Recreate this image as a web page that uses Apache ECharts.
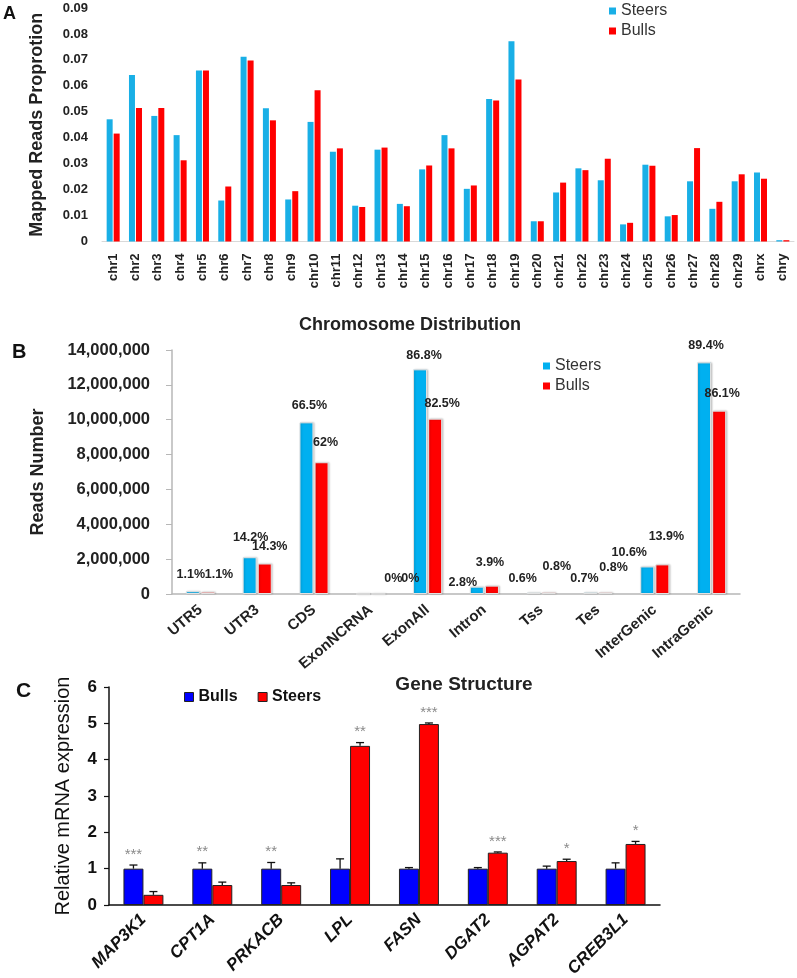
<!DOCTYPE html>
<html>
<head>
<meta charset="utf-8">
<script src="https://cdn.jsdelivr.net/npm/echarts@6/dist/echarts.min.js"></script>
<style>
  html, body { margin: 0; padding: 0; background: #fff; }
  #chart { width: 797px; height: 978px; }
</style>
</head>
<body>
<div id="chart"></div>
<script>
// panel A - mapped reads proportion per chromosome
const chrNames = ['chr1', 'chr2', 'chr3', 'chr4', 'chr5', 'chr6', 'chr7', 'chr8', 'chr9', 'chr10',
  'chr11', 'chr12', 'chr13', 'chr14', 'chr15', 'chr16', 'chr17', 'chr18', 'chr19', 'chr20',
  'chr21', 'chr22', 'chr23', 'chr24', 'chr25', 'chr26', 'chr27', 'chr28', 'chr29', 'chrx', 'chry']
const steersA = [0.0471, 0.0642, 0.0484, 0.0410, 0.0659, 0.0158, 0.0712, 0.0514, 0.0162, 0.0461,
  0.0346, 0.0138, 0.0354, 0.0145, 0.0278, 0.0410, 0.0203, 0.0549, 0.0772, 0.0078,
  0.0189, 0.0282, 0.0236, 0.0066, 0.0296, 0.0097, 0.0232, 0.0126, 0.0232, 0.0266, 0.0005]
const bullsA = [0.0416, 0.0515, 0.0515, 0.0313, 0.0659, 0.0212, 0.0698, 0.0467, 0.0194, 0.0583,
  0.0359, 0.0133, 0.0362, 0.0136, 0.0293, 0.0359, 0.0216, 0.0543, 0.0624, 0.0078,
  0.0227, 0.0275, 0.0319, 0.0072, 0.0292, 0.0102, 0.0360, 0.0153, 0.0259, 0.0242, 0.0005]

// panel B - reads number per gene structure
const regions = ['UTR5', 'UTR3', 'CDS', 'ExonNCRNA', 'ExonAll', 'Intron', 'Tss', 'Tes', 'InterGenic', 'IntraGenic']
const steersB = [160000, 2110000, 9850000, 0, 12890000, 420000, 90000, 100000, 1580000, 13290000]
const bullsB = [130000, 1750000, 7560000, 0, 10060000, 480000, 100000, 100000, 1700000, 10520000]
const pctSteers = ['1.1%', '14.2%', '66.5%', '0%', '86.8%', '2.8%', '0.6%', '0.7%', '10.6%', '89.4%']
const pctBulls = ['1.1%', '14.3%', '62%', '0%', '82.5%', '3.9%', '0.8%', '0.8%', '13.9%', '86.1%']

// panel C - qPCR relative expression
const genes = ['MAP3K1', 'CPT1A', 'PRKACB', 'LPL', 'FASN', 'DGAT2', 'AGPAT2', 'CREB3L1']
const bullsC = [1, 1, 1, 1, 1, 1, 1, 1]
const bullsErr = [0.10, 0.16, 0.17, 0.27, 0.03, 0.03, 0.07, 0.16]
const steersC = [0.28, 0.55, 0.55, 4.38, 4.98, 1.44, 1.21, 1.68]
const steersErr = [0.09, 0.08, 0.06, 0.09, 0.03, 0.02, 0.05, 0.07]
const signif = ['***', '**', '**', '**', '***', '***', '*', '*']

const FONT = 'Liberation Sans, Arial, sans-serif'
const SKY = '#19afe6'
const RED = '#ff0000'

// hand placed percentage labels in B (offsets from bar bottom)
const bLabelSteers = { dx: [-2, 1, 3, 30, 4, -14, -11, -6, -18, 2], dy: [-11, -48, -180, -8, -230, -3, -7, -7, -33, -240] }
const bLabelBulls = { dx: [11, 5, 4, 32, 7, -2, 8, 8, 4, 3], dy: [-11, -39, -143, -8, -182, -23, -19, -18, -49, -192] }

function pctData(values, pcts, pos) {
  return values.map((v, i) => ({
    value: v,
    label: { formatter: pcts[i], offset: [pos.dx[i], pos.dy[i]] }
  }))
}

const pctLabel = {
  show: true,
  position: 'insideBottom',
  distance: 0,
  fontFamily: FONT,
  fontSize: 12.5,
  fontWeight: 'bold',
  lineHeight: 16,
  color: '#222'
}

const letterStyle = size => ({ fontSize: size, fontWeight: 'bold', color: '#111', fontFamily: FONT })

const chart = echarts.init(document.getElementById('chart'), null, { renderer: 'canvas' })

chart.setOption({
  animation: false,
  textStyle: { fontFamily: FONT },
  title: [
    { text: 'A', left: 3, top: 5, padding: 0, textStyle: letterStyle(18) },
    { text: 'B', left: 12, top: 342, padding: 0, textStyle: letterStyle(20) },
    { text: 'C', left: 16, top: 681, padding: 0, textStyle: letterStyle(21) }
  ],
  legend: [
    {
      left: 609, top: 2, padding: 0, orient: 'vertical', itemWidth: 7, itemHeight: 7, itemGap: 2, icon: 'rect',
      textStyle: { fontSize: 16, color: '#333', lineHeight: 18, fontFamily: FONT },
      data: [{ name: 'Steers', itemStyle: { color: SKY } }, { name: 'Bulls', itemStyle: { color: RED } }]
    },
    {
      left: 543, top: 357, padding: 0, orient: 'vertical', itemWidth: 7, itemHeight: 7, itemGap: 2, icon: 'rect',
      textStyle: { fontSize: 16, color: '#333', lineHeight: 18, fontFamily: FONT },
      data: [{ name: 'Steers', itemStyle: { color: '#00b0f0' } }, { name: 'Bulls', itemStyle: { color: RED } }]
    },
    {
      left: 184, top: 688, padding: 0, orient: 'horizontal', itemWidth: 9, itemHeight: 9, itemGap: 20, icon: 'rect',
      textStyle: { fontSize: 16, fontWeight: 'bold', color: '#111', lineHeight: 18, fontFamily: FONT },
      data: [
        { name: 'Bulls', itemStyle: { color: '#0000ff', borderColor: '#222', borderWidth: 1 } },
        { name: 'Steers', itemStyle: { color: RED, borderColor: '#222', borderWidth: 1 } }
      ]
    }
  ],
  grid: [
    { left: 102, right: 3, top: 8, bottom: 736.5, outerBoundsMode: 'none' },
    { left: 172, right: 57, top: 350, bottom: 384, outerBoundsMode: 'none' },
    { left: 109, right: 137, top: 687, bottom: 73, outerBoundsMode: 'none' }
  ],
  xAxis: [
    {
      gridIndex: 0, type: 'category', data: chrNames,
      name: 'Chromosome Distribution', nameLocation: 'middle', nameGap: 75,
      nameTextStyle: { fontSize: 18, fontWeight: 'bold', color: '#222', padding: [0, 76, 0, 0] },
      axisLine: { lineStyle: { color: '#d9d9d9' } },
      axisTick: { show: false },
      axisLabel: { interval: 0, rotate: 90, margin: 12, fontSize: 13, fontWeight: 'bold', color: '#222' }
    },
    {
      gridIndex: 1, type: 'category', data: regions,
      name: 'Gene Structure', nameLocation: 'middle', nameGap: 75,
      nameTextStyle: { fontSize: 19, fontWeight: 'bold', color: '#222', padding: [0, 0, 0, 16] },
      axisLine: { lineStyle: { color: '#b7b7b7', width: 1.5 } },
      axisTick: { length: 5, lineStyle: { color: '#b7b7b7' } },
      axisLabel: { interval: 0, rotate: 40, margin: 14, fontSize: 15, fontWeight: 'bold', color: '#222' }
    },
    {
      gridIndex: 2, type: 'category', data: genes,
      axisLine: { lineStyle: { color: '#111', width: 1.5 } },
      axisTick: { length: 6, lineStyle: { color: '#111', width: 1.2 } },
      axisLabel: { interval: 0, rotate: 45, margin: 12, fontSize: 17, fontWeight: 'bold', fontStyle: 'italic', color: '#111' }
    }
  ],
  yAxis: [
    {
      gridIndex: 0, type: 'value', min: 0, max: 0.09, interval: 0.01,
      name: 'Mapped Reads Proprotion', nameLocation: 'middle', nameGap: 56,
      nameTextStyle: { fontSize: 18, fontWeight: 'bold', color: '#222' },
      axisLine: { show: false }, axisTick: { show: false }, splitLine: { show: false },
      axisLabel: {
        margin: 14, fontSize: 13, fontWeight: 'bold', color: '#222',
        formatter: v => (v === 0 ? '0' : v.toFixed(2))
      }
    },
    {
      gridIndex: 1, type: 'value', min: 0, max: 14000000, interval: 2000000,
      name: 'Reads Number', nameLocation: 'middle', nameGap: 125,
      nameTextStyle: { fontSize: 18, fontWeight: 'bold', color: '#222' },
      axisLine: { show: true, lineStyle: { color: '#b7b7b7', width: 1.5 } },
      axisTick: { show: true, length: 6, lineStyle: { color: '#b7b7b7' } },
      splitLine: { show: false },
      axisLabel: {
        margin: 22, fontSize: 16.5, fontWeight: 'bold', color: '#222',
        formatter: v => v.toLocaleString('en-US')
      }
    },
    {
      gridIndex: 2, type: 'value', min: 0, max: 6, interval: 1,
      name: 'Relative mRNA expression', nameLocation: 'middle', nameGap: 36,
      nameTextStyle: { fontSize: 20, color: '#111' },
      axisLine: { show: true, lineStyle: { color: '#111', width: 1.5 } },
      axisTick: { show: true, length: 5, lineStyle: { color: '#111', width: 1.2 } },
      splitLine: { show: false },
      axisLabel: { margin: 12, fontSize: 17, fontWeight: 'bold', color: '#111' }
    }
  ],
  series: [
    {
      name: 'Steers', type: 'bar', xAxisIndex: 0, yAxisIndex: 0, data: steersA,
      barWidth: 6, barGap: '17%', itemStyle: { color: SKY }
    },
    {
      name: 'Bulls', type: 'bar', xAxisIndex: 0, yAxisIndex: 0, data: bullsA,
      barWidth: 6, barGap: '17%', itemStyle: { color: RED }
    },
    {
      name: 'Steers', type: 'bar', xAxisIndex: 1, yAxisIndex: 1,
      data: pctData(steersB, pctSteers, bLabelSteers),
      barWidth: 14, barGap: '8%', label: pctLabel,
      itemStyle: { color: '#00b0f0', borderColor: '#e2e2e2', borderWidth: 1, shadowBlur: 2, shadowColor: 'rgba(0,0,0,0.2)', shadowOffsetX: 1 }
    },
    {
      name: 'Bulls', type: 'bar', xAxisIndex: 1, yAxisIndex: 1,
      data: pctData(bullsB, pctBulls, bLabelBulls),
      barWidth: 14, barGap: '8%', label: pctLabel,
      itemStyle: { color: RED, borderColor: '#e2e2e2', borderWidth: 1, shadowBlur: 2, shadowColor: 'rgba(0,0,0,0.2)', shadowOffsetX: 1 }
    },
    {
      name: 'Bulls', type: 'bar', xAxisIndex: 2, yAxisIndex: 2, data: bullsC,
      barWidth: '29%', barGap: '0%',
      itemStyle: { color: '#0000ff', borderColor: '#222', borderWidth: 1 }
    },
    {
      name: 'Steers', type: 'bar', xAxisIndex: 2, yAxisIndex: 2, data: steersC,
      barWidth: '29%', barGap: '0%',
      itemStyle: { color: RED, borderColor: '#222', borderWidth: 1 }
    },
    {
      // error bars (upper whisker) and significance stars
      type: 'custom', xAxisIndex: 2, yAxisIndex: 2, z: 5,
      data: genes.map((g, i) => [i, bullsC[i], bullsErr[i], steersC[i], steersErr[i]]),
      encode: { x: 0, y: [1, 3] },
      renderItem: function(params, api) {
        const i = api.value(0)
        const half = api.size([1, 0])[0] * 0.145
        const cx = api.coord([i, 0])[0]
        const children = []
        let best = null
        ;[[1, 2, -1], [3, 4, 1]].forEach(function(d) {
          const m = api.value(d[0])
          const e = api.value(d[1])
          const x = cx + d[2] * half
          const y0 = api.coord([i, m])[1]
          const y1 = api.coord([i, m + e])[1]
          children.push({ type: 'line', shape: { x1: x, y1: y0, x2: x, y2: y1 }, style: { stroke: '#111', lineWidth: 1.3 } })
          children.push({ type: 'line', shape: { x1: x - 4, y1: y1, x2: x + 4, y2: y1 }, style: { stroke: '#111', lineWidth: 1.3 } })
          if (!best || m + e > best.top) best = { top: m + e, x: x, y: y1 }
        })
        children.push({
          type: 'text',
          style: {
            text: signif[params.dataIndex], x: best.x, y: best.y - 3,
            textAlign: 'center', textVerticalAlign: 'bottom',
            fill: '#8a8a8a', font: '15px ' + FONT
          }
        })
        return { type: 'group', children: children }
      }
    }
  ]
})
</script>
</body>
</html>
